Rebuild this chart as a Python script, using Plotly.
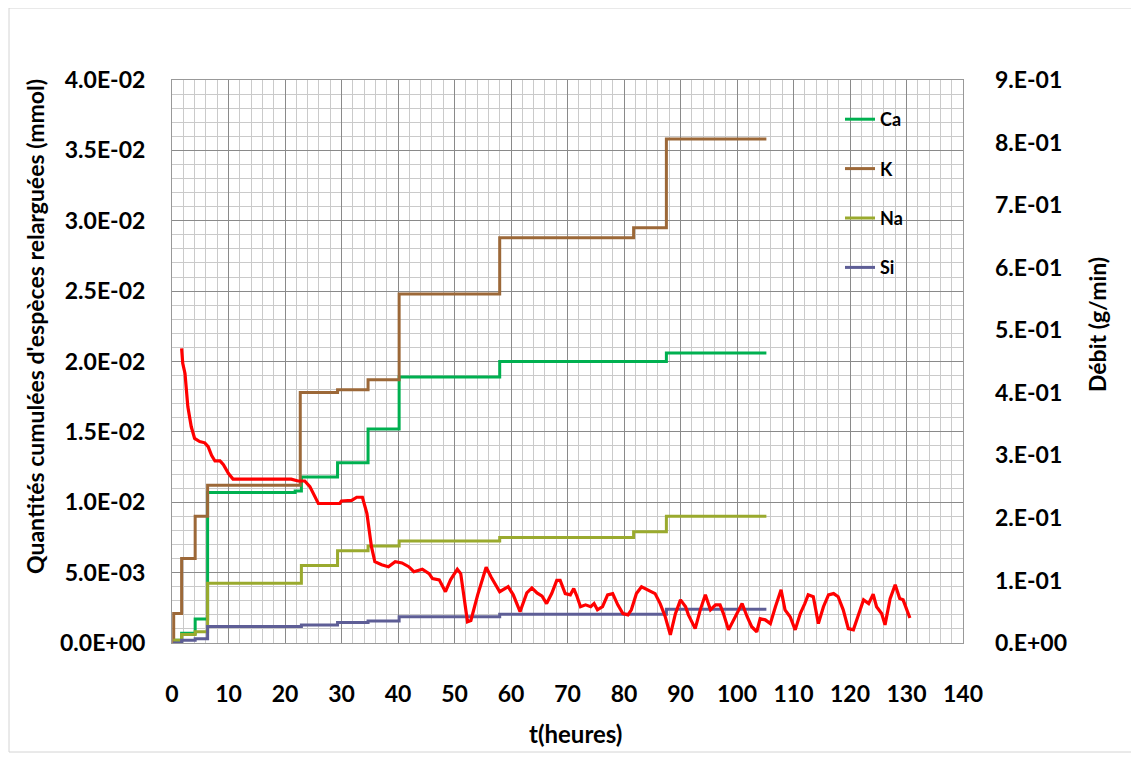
import plotly.graph_objects as go

# ---- data ----
t_K = [0.2, 0.3, 1.7, 4.1, 6.3, 22.7, 29.3, 34.7, 40.2, 58.0, 81.7, 87.5, 105.2]
v_K = [0.0, 2.1e-3, 6.0e-3, 9.0e-3, 11.2e-3, 17.8e-3, 18.0e-3, 18.7e-3, 24.8e-3, 28.8e-3, 29.5e-3, 35.8e-3, 35.8e-3]

t_Ca = [0.2, 1.7, 4.1, 6.3, 21.8, 22.9, 29.3, 34.7, 40.2, 58.0, 87.5, 105.2]
v_Ca = [0.2e-3, 0.7e-3, 1.7e-3, 10.7e-3, 10.8e-3, 11.8e-3, 12.8e-3, 15.2e-3, 18.9e-3, 20.0e-3, 20.6e-3, 20.6e-3]

t_Na = [0.2, 1.7, 4.1, 6.3, 22.9, 29.3, 34.7, 40.2, 58.0, 81.7, 87.5, 105.2]
v_Na = [0.2e-3, 0.6e-3, 0.8e-3, 4.25e-3, 5.5e-3, 6.55e-3, 6.9e-3, 7.25e-3, 7.5e-3, 7.9e-3, 9.0e-3, 9.0e-3]

t_Si = [0.2, 1.7, 4.1, 6.3, 22.9, 29.3, 34.7, 40.2, 58.0, 87.5, 105.2]
v_Si = [0.0, 0.2e-3, 0.3e-3, 1.18e-3, 1.27e-3, 1.45e-3, 1.56e-3, 1.87e-3, 2.04e-3, 2.4e-3, 2.4e-3]

t_debit = [1.7, 1.9, 2.3, 2.8, 3.4, 4.0, 4.9, 5.8, 6.4, 7.0, 7.6, 8.5, 9.1, 10.0, 10.8, 15.0,
           21.1, 22.3, 23.5, 24.4, 25.9, 29.7, 30.0, 31.8, 32.7, 33.7, 34.5, 35.3, 35.9, 37.1,
           38.3, 39.5, 40.7, 41.9, 42.8, 44.3, 45.5, 46.1, 47.3, 48.4, 49.3, 50.5, 51.1, 52.3,
           52.9, 54.1, 55.0, 55.6, 56.5, 58.0, 59.5, 60.4, 61.6, 62.8, 63.7, 64.6, 65.5, 66.3,
           67.2, 68.1, 68.7, 69.6, 70.5, 71.1, 71.7, 72.3, 73.2, 74.1, 74.7, 75.3, 76.2, 77.1,
           78.0, 78.9, 79.8, 80.7, 81.3, 82.2, 83.1, 84.3, 85.5, 86.4, 87.3, 88.2, 89.1, 90.0,
           90.9, 91.4, 92.6, 93.5, 94.4, 95.3, 96.2, 97.0, 97.6, 98.5, 99.4, 100.3, 100.9, 101.8,
           102.6, 103.5, 104.1, 105.0, 105.9, 106.8, 107.8, 108.5, 109.4, 110.3, 111.2, 112.0,
           112.6, 113.5, 114.4, 115.3, 116.2, 117.1, 117.9, 118.8, 119.7, 120.6, 121.5, 122.4,
           123.3, 124.1, 124.7, 125.6, 126.2, 127.1, 128.0, 128.8, 129.4, 130.0, 130.6]
v_debit = [0.471, 0.447, 0.431, 0.378, 0.346, 0.327, 0.322, 0.320, 0.314, 0.300, 0.291, 0.291, 0.285, 0.271, 0.262, 0.262,
           0.262, 0.259, 0.259, 0.250, 0.223, 0.223, 0.227, 0.228, 0.233, 0.233, 0.207, 0.154, 0.130, 0.125,
           0.122, 0.130, 0.128, 0.122, 0.114, 0.118, 0.111, 0.103, 0.101, 0.082, 0.101, 0.118, 0.111, 0.034,
           0.036, 0.077, 0.101, 0.121, 0.105, 0.082, 0.090, 0.077, 0.050, 0.080, 0.088, 0.080, 0.075, 0.063,
           0.079, 0.100, 0.100, 0.079, 0.077, 0.087, 0.074, 0.058, 0.061, 0.058, 0.063, 0.053, 0.058, 0.077,
           0.079, 0.061, 0.047, 0.045, 0.053, 0.079, 0.090, 0.085, 0.079, 0.063, 0.042, 0.013, 0.047, 0.069,
           0.058, 0.045, 0.023, 0.053, 0.077, 0.053, 0.061, 0.061, 0.047, 0.021, 0.037, 0.053, 0.063, 0.042,
           0.026, 0.018, 0.039, 0.037, 0.031, 0.058, 0.085, 0.053, 0.042, 0.021, 0.047, 0.063,
           0.077, 0.074, 0.031, 0.058, 0.077, 0.079, 0.074, 0.053, 0.023, 0.021, 0.047, 0.069,
           0.063, 0.078, 0.058, 0.047, 0.029, 0.071, 0.093, 0.071, 0.069, 0.053, 0.040]

x_ticks = list(range(0, 141, 10))
y1_ticks = [0, 0.005, 0.01, 0.015, 0.02, 0.025, 0.03, 0.035, 0.04]
y1_labels = ["0.0E+00", "5.0E-03", "1.0E-02", "1.5E-02", "2.0E-02", "2.5E-02", "3.0E-02", "3.5E-02", "4.0E-02"]
y2_ticks = [0, 0.1, 0.2, 0.3, 0.4, 0.5, 0.6, 0.7, 0.8, 0.9]
y2_labels = ["0.E+00", "1.E-01", "2.E-01", "3.E-01", "4.E-01", "5.E-01", "6.E-01", "7.E-01", "8.E-01", "9.E-01"]

FONT = "Lato"
tick_font = dict(family=FONT, size=23, color="black", weight="bold")

fig = go.Figure()
series = [("Ca", t_Ca, v_Ca, "#00B050"),
          ("K", t_K, v_K, "#9C6838"),
          ("Na", t_Na, v_Na, "#9AAA2E"),
          ("Si", t_Si, v_Si, "#5E5E96")]
for name, tx, vy, col in series:
    fig.add_trace(go.Scatter(x=tx, y=vy, name=name, mode="lines", line=dict(color=col, width=3, shape="hv"),
                             legendgroup=name, yaxis="y"))
fig.add_trace(go.Scatter(x=t_debit, y=v_debit, name="Débit", mode="lines",
                         line=dict(color="#FF0000", width=3.2), showlegend=False, yaxis="y2"))

# page has an 8px body margin: the figure starts at (8, 8) on the page
OFF = 8
W, H = 1139 - OFF, 758 - OFF
L, R, T, B = 172, 963, 80, 643          # plot area in page pixels
def px(x):
    return (x - L) / (R - L)
def py(y):
    return (B - y) / (B - T)

fig.update_layout(
    width=W, height=H,
    margin=dict(l=L - OFF, r=W - (R - OFF), t=T - OFF, b=H - (B - OFF), pad=0),
    paper_bgcolor="white", plot_bgcolor="white",
    xaxis=dict(range=[0, 140], tickvals=x_ticks, tickfont=tick_font, ticks="", ticklabelstandoff=30,
               showgrid=True, gridcolor="#8a8a8a", gridwidth=1,
               minor=dict(dtick=2, showgrid=True, gridcolor="#cacaca", gridwidth=1),
               showline=True, linecolor="#999999", linewidth=1, mirror=True, zeroline=False),
    yaxis=dict(range=[0, 0.04], tickvals=y1_ticks, ticktext=y1_labels, tickfont=tick_font, ticks="",
               ticklabelstandoff=21,
               showgrid=True, gridcolor="#8a8a8a", gridwidth=1,
               minor=dict(dtick=0.001, showgrid=True, gridcolor="#cacaca", gridwidth=1),
               showline=True, linecolor="#999999", linewidth=1, mirror=True, zeroline=False),
    yaxis2=dict(range=[0, 0.9], tickvals=y2_ticks, ticktext=y2_labels, tickfont=tick_font, ticks="",
                ticklabelstandoff=31, overlaying="y", side="right", showgrid=False, zeroline=False,
                showline=False),
    legend=dict(x=px(840), y=py(101), xanchor="left", yanchor="top", bgcolor="rgba(0,0,0,0)",
                font=dict(family=FONT, size=18, color="black", weight="bold"), tracegroupgap=23,
                itemwidth=30),
    showlegend=True,
)

fig.add_annotation(text="Quantités cumulées d'espèces relarguées (mmol)", xref="paper", yref="paper",
                   x=px(35), y=py(327), textangle=-90, showarrow=False, xanchor="center", yanchor="middle",
                   font=dict(family=FONT, size=23, color="black", weight="bold"))
fig.add_annotation(text="Débit (g/min)", xref="paper", yref="paper",
                   x=px(1097), y=py(325), textangle=-90, showarrow=False, xanchor="center", yanchor="middle",
                   font=dict(family=FONT, size=23, color="black", weight="bold"))
fig.add_annotation(text="t(heures)", xref="paper", yref="paper",
                   x=px(575), y=py(733), showarrow=False, xanchor="center", yanchor="middle",
                   font=dict(family=FONT, size=24, color="black", weight="bold"))
fig.add_shape(type="rect", xref="paper", yref="paper", x0=px(9), x1=px(1133), y0=py(752), y1=py(8),
              line=dict(color="#d4d4d4", width=1), layer="below")

fig.write_html("out.html")
